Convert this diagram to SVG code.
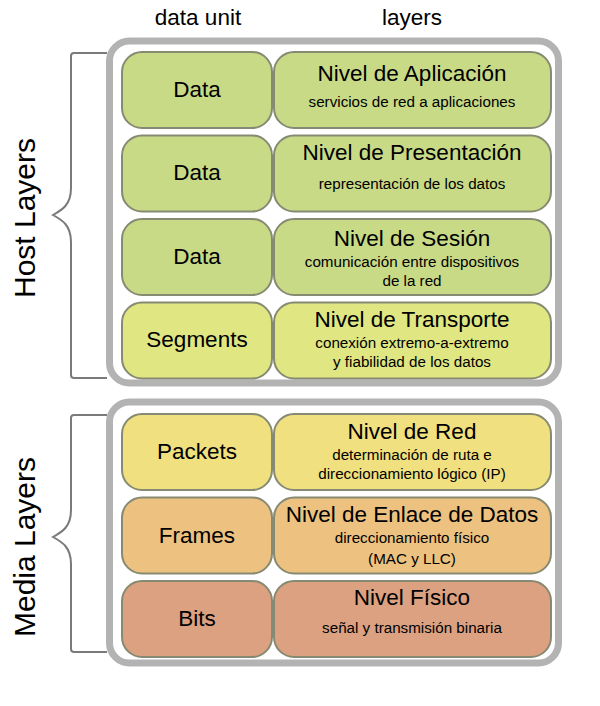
<svg xmlns="http://www.w3.org/2000/svg" width="600" height="706" viewBox="0 0 600 706">
<style>
text{font-family:"Liberation Sans",Arial,sans-serif;fill:#000;text-anchor:middle}
.hdr{font-size:22.5px}
.side{font-size:30px}
.unit{font-size:22.5px}
.title{font-size:22.5px}
.sub{font-size:15.2px}
.cont{fill:#fff;stroke:#b3b3b3;stroke-width:7}
.box{stroke:#878a72;stroke-width:2}
.brace{fill:none;stroke:#7a7a7a;stroke-width:2}
.g1{fill:#c8da86}
.g2{fill:#dfe682}
.g3{fill:#f0e07f}
.g4{fill:#edc280}
.g5{fill:#dca180}
</style>
<text class="hdr" x="198" y="25">data unit</text>
<text class="hdr" x="412" y="25">layers</text>
<g id="host">
<rect class="cont" x="109.5" y="41" width="449" height="342" rx="20"/>
<path class="brace" d="M107,53 H74 Q71,53 71,56 V188 C71,205 62,210 53,215 C62,220 71,225 71,242 V375 Q71,378 74,378 H107"/>
<text class="side" transform="translate(35,218) rotate(-90)">Host Layers</text>
</g>
<g id="media">
<rect class="cont" x="109.5" y="402" width="449" height="261" rx="20"/>
<path class="brace" d="M107,415 H74 Q71,415 71,418 V510 C71,527 62,532 53,537 C62,542 71,547 71,564 V649 Q71,652 74,652 H107"/>
<text class="side" transform="translate(35,547) rotate(-90)">Media Layers</text>
</g>
<g id="app">
<rect class="box g1" x="122" y="52" width="150" height="76" rx="20"/>
<rect class="box g1" x="274" y="52" width="277" height="76" rx="20"/>
<text class="unit" x="197" y="97">Data</text>
<text class="title" x="412" y="81">Nivel de Aplicación</text>
<text class="sub" x="412" y="107">servicios de red a aplicaciones</text>
</g>
<g id="pres">
<rect class="box g1" x="122" y="135.5" width="150" height="76" rx="20"/>
<rect class="box g1" x="274" y="135.5" width="277" height="76" rx="20"/>
<text class="unit" x="197" y="180">Data</text>
<text class="title" x="412" y="160">Nivel de Presentación</text>
<text class="sub" x="412" y="189">representación de los datos</text>
</g>
<g id="ses">
<rect class="box g1" x="122" y="219" width="150" height="76" rx="20"/>
<rect class="box g1" x="274" y="219" width="277" height="76" rx="20"/>
<text class="unit" x="197" y="264">Data</text>
<text class="title" x="412" y="246">Nivel de Sesión</text>
<text class="sub" x="412" y="267">comunicación entre dispositivos</text>
<text class="sub" x="412" y="286">de la red</text>
</g>
<g id="trans">
<rect class="box g2" x="122" y="302.5" width="150" height="76" rx="20"/>
<rect class="box g2" x="274" y="302.5" width="277" height="76" rx="20"/>
<text class="unit" x="197" y="347">Segments</text>
<text class="title" x="412" y="327">Nivel de Transporte</text>
<text class="sub" x="412" y="348">conexión extremo-a-extremo</text>
<text class="sub" x="412" y="367">y fiabilidad de los datos</text>
</g>
<g id="red">
<rect class="box g3" x="122" y="414" width="150" height="76" rx="20"/>
<rect class="box g3" x="274" y="414" width="277" height="76" rx="20"/>
<text class="unit" x="197" y="459">Packets</text>
<text class="title" x="412" y="439">Nivel de Red</text>
<text class="sub" x="412" y="460">determinación de ruta e</text>
<text class="sub" x="412" y="479">direccionamiento lógico (IP)</text>
</g>
<g id="enlace">
<rect class="box g4" x="122" y="497.5" width="150" height="76" rx="20"/>
<rect class="box g4" x="274" y="497.5" width="277" height="76" rx="20"/>
<text class="unit" x="197" y="543">Frames</text>
<text class="title" x="412" y="522">Nivel de Enlace de Datos</text>
<text class="sub" x="412" y="543">direccionamiento físico</text>
<text class="sub" x="412" y="564">(MAC y LLC)</text>
</g>
<g id="fisico">
<rect class="box g5" x="122" y="581" width="150" height="76" rx="20"/>
<rect class="box g5" x="274" y="581" width="277" height="76" rx="20"/>
<text class="unit" x="197" y="626">Bits</text>
<text class="title" x="412" y="605">Nivel Físico</text>
<text class="sub" x="412" y="633">señal y transmisión binaria</text>
</g>
<g id="connectors"/>
</svg>
